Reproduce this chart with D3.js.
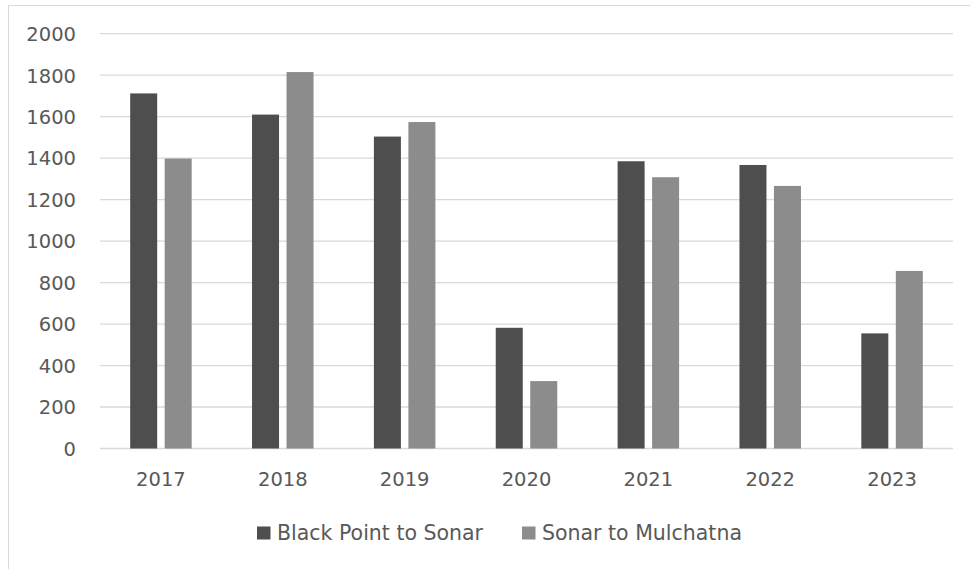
<!DOCTYPE html>
<html>
<head>
<meta charset="utf-8">
<script src="https://cdn.jsdelivr.net/npm/d3@7"></script>
<style>
  html, body { margin: 0; padding: 0; background: #ffffff; }
  svg { display: block; }
  text { font-family: "DejaVu Sans", sans-serif; fill: #595959; }
</style>
</head>
<body>
<svg id="chart" width="970" height="569"></svg>
<script>
// Yearly counts for the two river sections
const years = ["2017", "2018", "2019", "2020", "2021", "2022", "2023"];
const seriesNames = ["Black Point to Sonar", "Sonar to Mulchatna"];
const blackPointToSonar = [1712, 1610, 1504, 582, 1385, 1367, 555];
const sonarToMulchatna = [1398, 1815, 1574, 325, 1308, 1266, 856];
const yTicks = [0, 200, 400, 600, 800, 1000, 1200, 1400, 1600, 1800, 2000];
const colors = ["#4e4e4e", "#8c8c8c"];

const seriesValues = [blackPointToSonar, sonarToMulchatna];
const rows = years.map((y, i) => ({
  year: y,
  values: seriesNames.map((s, k) => ({ series: s, value: seriesValues[k][i], k }))
}));

const svg = d3.select("#chart");

// Outer chart frame (right and bottom edges run past the view)
svg.append("rect")
  .attr("x", 8.5).attr("y", 5.5)
  .attr("width", 1200).attr("height", 1200)
  .attr("fill", "none").attr("stroke", "#d9d9d9").attr("stroke-width", 1);

const plot = { left: 100, right: 953, top: 33.7, bottom: 448.5 };

const x = d3.scaleBand().domain(years).range([plot.left, plot.right]).padding(0);
const x1 = d3.scaleBand().domain(seriesNames).range([0, x.bandwidth()])
  .paddingInner(0.217).paddingOuter(0.875);
const y = d3.scaleLinear().domain([0, 2000]).range([plot.bottom, plot.top]);

// Horizontal gridlines
svg.append("g")
  .selectAll("line")
  .data(yTicks)
  .join("line")
  .attr("x1", plot.left).attr("x2", plot.right)
  .attr("y1", d => y(d)).attr("y2", d => y(d))
  .attr("stroke", "#d9d9d9").attr("stroke-width", 1.3);

// Y axis labels
const yAxis = d3.axisLeft(y).tickValues(yTicks).tickFormat(d3.format("d"))
  .tickSize(0).tickPadding(0);
svg.append("g")
  .attr("transform", `translate(76,0)`)
  .call(yAxis)
  .call(g => g.select(".domain").remove())
  .call(g => g.selectAll("text")
    .attr("font-size", 19.5)
    .attr("font-family", "DejaVu Sans, sans-serif")
    .attr("fill", "#595959")
    .attr("dy", "0.35em"));

// Bars
svg.append("g")
  .selectAll("g")
  .data(rows)
  .join("g")
  .attr("transform", d => `translate(${x(d.year)},0)`)
  .selectAll("rect")
  .data(d => d.values)
  .join("rect")
  .attr("x", d => x1(d.series))
  .attr("width", x1.bandwidth())
  .attr("y", d => y(d.value))
  .attr("height", d => y(0) - y(d.value))
  .attr("fill", d => colors[d.k]);

// X axis labels
const xAxis = d3.axisBottom(x).tickSize(0).tickPadding(0);
svg.append("g")
  .attr("transform", `translate(0,${plot.bottom})`)
  .call(xAxis)
  .call(g => g.select(".domain").remove())
  .call(g => g.selectAll("text")
    .attr("font-size", 19.5)
    .attr("font-family", "DejaVu Sans, sans-serif")
    .attr("fill", "#595959")
    .attr("y", 37.5)
    .attr("dy", 0));

// Legend
const legendX = [257, 522];
const legend = svg.append("g")
  .selectAll("g")
  .data(seriesNames)
  .join("g")
  .attr("transform", (d, i) => `translate(${legendX[i]},526.5)`);
legend.append("rect")
  .attr("width", 13.5).attr("height", 13)
  .attr("fill", (d, i) => colors[i]);
legend.append("text")
  .attr("x", 20).attr("y", 13)
  .attr("font-size", 20.5)
  .text(d => d);
</script>
</body>
</html>
